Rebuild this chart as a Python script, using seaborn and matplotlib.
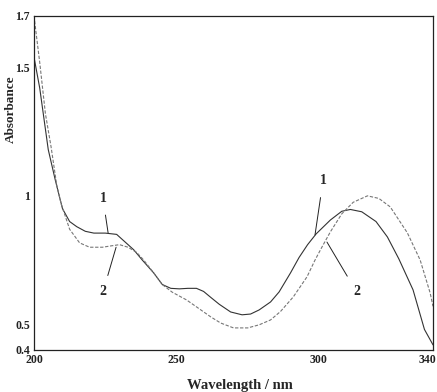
import matplotlib
matplotlib.use("Agg")
import matplotlib.pyplot as plt
import matplotlib.transforms as mtransforms
import seaborn as sns
from matplotlib.ticker import FixedLocator

# Spektren
wl_1 = [200, 202, 205, 207.5, 210, 212.5, 215, 218, 221, 225, 229, 232, 235, 238,
        242, 245, 248, 251, 254, 257, 259.5, 262, 265, 269, 273, 276, 279, 283, 286,
        290, 293, 296, 299, 304, 308, 311, 315, 320, 324, 328, 333, 337, 340]
abs_1 = [1.54, 1.42, 1.18, 1.06, 0.95, 0.90, 0.88, 0.862, 0.855, 0.855, 0.85, 0.82, 0.79, 0.75,
         0.70, 0.655, 0.64, 0.638, 0.64, 0.64, 0.628, 0.605, 0.578, 0.548, 0.537, 0.54, 0.556, 0.587, 0.626,
         0.70, 0.76, 0.81, 0.852, 0.906, 0.94, 0.947, 0.938, 0.90, 0.84, 0.755, 0.634, 0.48, 0.42]

wl_2 = [200, 202, 204, 206, 208, 209.5, 212.5, 216, 219.5, 224, 227.5, 230, 233, 236, 238.5,
        242, 245, 248.5, 253.5, 257, 262, 265.5, 270, 275, 279, 283, 286.5, 291, 295.8,
        298.6, 301, 304, 308, 312, 317, 321, 325, 331, 335.5, 339, 340]
abs_2 = [1.70, 1.52, 1.32, 1.19, 1.04, 0.97, 0.87, 0.817, 0.80, 0.80, 0.806, 0.81, 0.80, 0.78, 0.75,
         0.70, 0.655, 0.625, 0.595, 0.568, 0.529, 0.505, 0.486, 0.486, 0.498, 0.517, 0.55, 0.607, 0.685,
         0.75, 0.80, 0.86, 0.93, 0.975, 1.0, 0.99, 0.957, 0.856, 0.75, 0.622, 0.57]

x_ticks = [200, 250, 300, 340]
x_minor = [225, 275, 325]
y_ticks = [0.4, 0.5, 1, 1.5, 1.7]
y_tick_labels = ["0.4", "0.5", "1", "1.5", "1.7"]
y_minor = [0.75, 1.25]

sns.set_style("white")
serif = ["Liberation Serif", "DejaVu Serif"]
plt.rcParams["font.family"] = serif
plt.rcParams["font.weight"] = "bold"

fig = plt.figure(figsize=(4.37, 3.92), dpi=100)
ax = fig.add_axes([34 / 437, 1 - 350 / 392, 399 / 437, 334 / 392])

sns.lineplot(x=wl_1, y=abs_1, ax=ax, color="#333333", linewidth=0.8)
sns.lineplot(x=wl_2, y=abs_2, ax=ax, color="#777777", linewidth=0.8, linestyle=(0, (3, 1.5)))

ax.set_xlim(200, 340)
ax.set_ylim(0.4, 1.7)

ax.xaxis.set_major_locator(FixedLocator(x_ticks))
ax.xaxis.set_minor_locator(FixedLocator(x_minor))
ax.set_xticklabels([str(t) for t in x_ticks])
ax.yaxis.set_major_locator(FixedLocator(y_ticks))
ax.yaxis.set_minor_locator(FixedLocator(y_minor))
ax.set_yticklabels(y_tick_labels)
ax.tick_params(axis="both", which="both", direction="in", length=4, width=0.7,
               labelsize=8.5, colors="#222222", pad=3)
ax.tick_params(axis="both", which="minor", length=3)
for lab in ax.get_xticklabels() + ax.get_yticklabels():
    lab.set_fontweight("bold")

# letzte Beschriftung (340) etwas nach links, damit sie im Bild bleibt
last = ax.get_xticklabels()[-1]
last.set_transform(last.get_transform() + mtransforms.ScaledTranslation(-6 / 100, 0, fig.dpi_scale_trans))

for side in ["top", "right", "bottom", "left"]:
    ax.spines[side].set_visible(True)
    ax.spines[side].set_color("#222222")
    ax.spines[side].set_linewidth(0.9)

ax.set_xlabel("Wavelength / nm", fontsize=10.5, fontweight="bold", family=serif)
ax.xaxis.set_label_coords(0.516, -0.088)
ax.set_ylabel("Absorbance", fontsize=9.5, fontweight="bold", family=serif)
ax.yaxis.set_label_coords(-0.042, 0.72)

# Kurvenbeschriftungen
kw = dict(fontsize=10, fontweight="bold", ha="center", va="center",
          arrowprops=dict(arrowstyle="-", color="#222222", lw=0.7, shrinkA=5, shrinkB=0))
ax.annotate("1", xy=(226, 0.856), xytext=(224.2, 0.99), **kw)
ax.annotate("2", xy=(228.8, 0.80), xytext=(224.2, 0.626), **kw)
ax.annotate("1", xy=(298.6, 0.848), xytext=(301.4, 1.058), **kw)
ax.annotate("2", xy=(302.8, 0.82), xytext=(313.2, 0.626), **kw)

fig.savefig("out.png", dpi=100)
